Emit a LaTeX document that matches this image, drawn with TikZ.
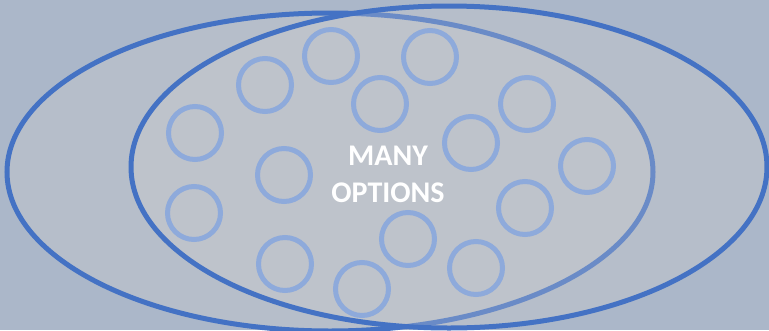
\documentclass[tikz,border=0pt]{standalone}
\usepackage{fontspec}
\setmainfont{Carlito}
\definecolor{bgcol}{RGB}{171,183,201}
\definecolor{ellcol}{RGB}{68,114,196}
\definecolor{fillcol}{RGB}{212,209,208}
\definecolor{ringcol}{RGB}{142,170,219}
\tikzset{
  bigell/.style={draw=ellcol, line width=5pt, fill=fillcol, fill opacity=0.27, draw opacity=1},
  ring/.style={circle, draw=ringcol, line width=5pt, minimum size=53pt, inner sep=0pt},
  label/.style={text=white, font=\bfseries\fontsize{30}{37}\selectfont, align=center}
}
\begin{document}
\begin{tikzpicture}[x=1pt,y=-1pt]
\useasboundingbox (0,0) rectangle (769,330);
\fill[bgcol] (0,0) rectangle (769,330);
\path[bigell] (330,172) ellipse [x radius=323, y radius=159];
\path[bigell] (449,167) ellipse [x radius=318, y radius=161];
\node[ring] (c1) at (331,56) {};
\node[ring] (c2) at (430,57) {};
\node[ring] (c3) at (265,85) {};
\node[ring] (c4) at (380,104) {};
\node[ring] (c5) at (527,104) {};
\node[ring] (c6) at (195,133) {};
\node[ring] (c7) at (471,143) {};
\node[ring] (c8) at (587,166) {};
\node[ring] (c9) at (284,175) {};
\node[ring] (c10) at (194,213) {};
\node[ring] (c11) at (525,208) {};
\node[ring] (c12) at (408,239) {};
\node[ring] (c13) at (285,264) {};
\node[ring] (c14) at (476,268) {};
\node[ring] (c15) at (362,289) {};
\node[label] (t) at (388,174) {MANY\\OPTIONS};
\end{tikzpicture}
\end{document}
